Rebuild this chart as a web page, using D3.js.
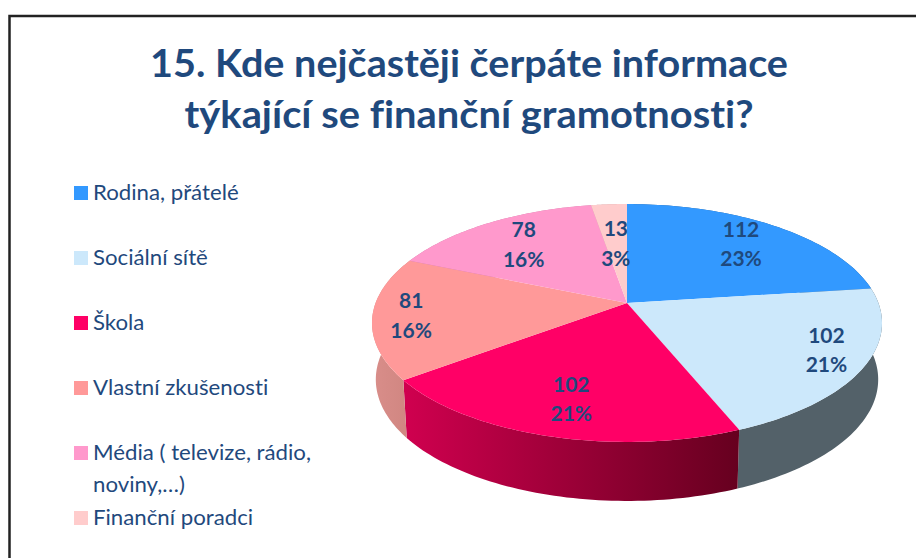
<!DOCTYPE html>
<html><head><meta charset="utf-8">
<script src="https://cdnjs.cloudflare.com/ajax/libs/d3/7.8.5/d3.min.js"></script>
<style>html,body{margin:0;padding:0;background:#fff}svg{display:block}text{font-family:Lato,sans-serif;font-variant-ligatures:none}</style>
</head><body><svg id="c" width="916" height="558"></svg>
<script>
const titleLines = ["15. Kde nejčastěji čerpáte informace", "týkající se finanční gramotnosti?"];
const categories = ["Rodina, přátelé", "Sociální sítě", "Škola", "Vlastní zkušenosti", "Média ( televize, rádio, noviny,…)", "Finanční poradci"];
const values = [112, 102, 102, 81, 78, 13];
const percents = ["23%", "21%", "21%", "16%", "16%", "3%"];
const colors = ["#3399ff", "#cce8fb", "#ff0066", "#ff9999", "#ff99cc", "#ffcccc"];
const sideColors = [["#1f5c99","#1f5c99"], ["#536169","#536169"], ["#d0004f","#66001f"], ["#d98e8a","#cf8580"], ["#cc7aa3","#cc7aa3"], ["#cca3a3","#cca3a3"]];
const labelRadii = [0.745, 0.856, 0.755, 0.85, 0.71, 0.58];
const labelNudge = [[1, 0], [-1, -7], [2, 0], [0, 0], [-2, 0], [0, 1]];
const legendRows = [193, 258, 323, 388, 453, 518];

const ink = "#1f497d";
const svg = d3.select("#c");
const defs = svg.append("defs");

// frame
svg.append("path").attr("d", "M9.5 558V16H916").attr("fill", "none").attr("stroke", "#222").attr("stroke-width", 2.5);

// title
const titleW = [638, 569];
svg.selectAll("text.title").data(titleLines).join("text").attr("class", "title")
  .attr("x", 469).attr("y", (d, i) => 77 + i * 51)
  .attr("text-anchor", "middle").attr("font-size", 38).attr("font-weight", 700).attr("fill", ink)
  .attr("textLength", (d, i) => titleW[i]).attr("lengthAdjust", "spacingAndGlyphs").text(d => d);

// legend
const legend = svg.append("g");
const rows = legend.selectAll("g").data(categories).join("g").attr("transform", (d, i) => `translate(0,${legendRows[i]})`);
rows.append("rect").attr("x", 74).attr("y", -7).attr("width", 14).attr("height", 14).attr("fill", (d, i) => colors[i]);
const lines = c => c.startsWith("Média") ? ["Média ( televize, rádio,", "noviny,…)"] : [c];
rows.each(function (d) {
  const t = d3.select(this).append("text").attr("transform", "translate(93,7) scale(1.01,1)").attr("font-size", 22).attr("fill", ink);
  lines(d).forEach((s, j) => t.append("tspan").attr("x", 0).attr("y", j * 32).text(s));
});

// perspective pie
const apex = [627, 303], A = 251.4, B = 115.6, k = 0.168;
const project = (a, r = 1, dy = 0, shrink = 1) => {
  const u = Math.sin(a) * r, v = -Math.cos(a) * r, w = 1 - k * v;
  return [apex[0] + shrink * A * u / w, apex[1] + B * v / w + dy];
};
const arcs = d3.pie().sort(null)(values);
const line = d3.line();
const steps = (a0, a1) => d3.range(0, 61).map(i => a0 + (a1 - a0) * i / 60);

const depth = a => 56 + 3 * Math.max(0, -Math.cos(a));
const sides = svg.append("g");
arcs.forEach((d, i) => {
  const top = steps(d.startAngle, d.endAngle).map(a => project(a));
  const bot = steps(d.endAngle, d.startAngle).map(a => project(a, 1, depth(a), 0.985));
  const pts = top.concat(bot);
  const xs = d3.extent(pts, p => p[0]);
  const g = defs.append("linearGradient").attr("id", "s" + i).attr("gradientUnits", "userSpaceOnUse")
    .attr("x1", xs[0]).attr("x2", xs[1]).attr("y1", 0).attr("y2", 0);
  g.append("stop").attr("offset", 0).attr("stop-color", sideColors[i][0]);
  g.append("stop").attr("offset", 1).attr("stop-color", sideColors[i][1]);
  sides.append("path").attr("d", line(pts) + "Z").attr("fill", `url(#s${i})`);
});
const tops = svg.append("g");
arcs.forEach((d, i) => {
  tops.append("path").attr("d", line([apex].concat(steps(d.startAngle, d.endAngle).map(a => project(a)))) + "Z").attr("fill", colors[i]);
});

// labels
arcs.forEach((d, i) => {
  const m = (d.startAngle + d.endAngle) / 2;
  const p = project(m, labelRadii[i]);
  const x = p[0] + labelNudge[i][0], y = p[1] + labelNudge[i][1];
  const t = svg.append("text").attr("text-anchor", "middle").attr("font-size", 21).attr("font-weight", 700).attr("fill", ink);
  t.append("tspan").attr("x", x).attr("y", y - 7).text(values[i]);
  t.append("tspan").attr("x", x).attr("y", y + 22.5).text(percents[i]);
});
</script></body></html>
